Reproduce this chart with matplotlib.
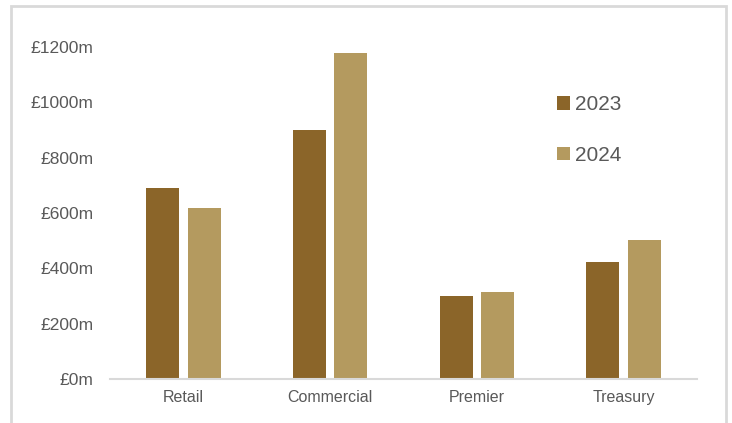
import matplotlib
matplotlib.use("Agg")
import matplotlib.pyplot as plt
from matplotlib.patches import Rectangle
import numpy as np

categories = ["Retail", "Commercial", "Premier", "Treasury"]
series_names = ["2023", "2024"]
values_2023 = [691, 900, 300, 423]
values_2024 = [618, 1179, 315, 503]
yticks = [0, 200, 400, 600, 800, 1000, 1200]
ytick_labels = ["£0m", "£200m", "£400m", "£600m", "£800m", "£1000m", "£1200m"]

plt.rcParams['font.family'] = ['Liberation Sans', 'DejaVu Sans']

W, H = 732, 423
fig = plt.figure(figsize=(W / 100, H / 100), dpi=100)
ax = fig.add_axes([110 / W, 1 - 379 / H, (697 - 110) / W, (379 - 47) / H])

# outer frame
fig.patches.append(Rectangle((11 / W, -0.1), (726 - 11) / W, 1 - 6 / H + 0.1,
                             transform=fig.transFigure, fill=False,
                             edgecolor="#D9D9D9", linewidth=2))

x = np.arange(len(categories))
w = 0.225
off = 0.142
ax.bar(x - off, values_2023, w, color="#8B6529", label=series_names[0])
ax.bar(x + off, values_2024, w, color="#B49A5F", label=series_names[1])

ax.set_xlim(-0.5, 3.5)
ax.set_ylim(0, 1200)
ax.set_yticks(yticks)
ax.set_yticklabels(ytick_labels)
ax.set_xticks(x)
ax.set_xticklabels(categories)
ax.tick_params(axis="y", length=0, pad=12, labelsize=12.5, labelcolor="#595959")
ax.tick_params(axis="x", length=0, pad=8, labelsize=11.5, labelcolor="#595959")
for s in ["top", "right", "left"]:
    ax.spines[s].set_visible(False)
ax.spines["bottom"].set_color("#D9D9D9")
ax.spines["bottom"].set_linewidth(1.5)

leg = ax.legend(loc="upper left", bbox_to_anchor=((549 - 110) / (697 - 110), 1 - (87 - 47) / (379 - 47)),
                frameon=False, fontsize=15, handlelength=0.6, handleheight=0.6,
                handletextpad=0.25, labelspacing=1.5, borderaxespad=0)
for t in leg.get_texts():
    t.set_color("#595959")

fig.savefig("out.png", dpi=100)
